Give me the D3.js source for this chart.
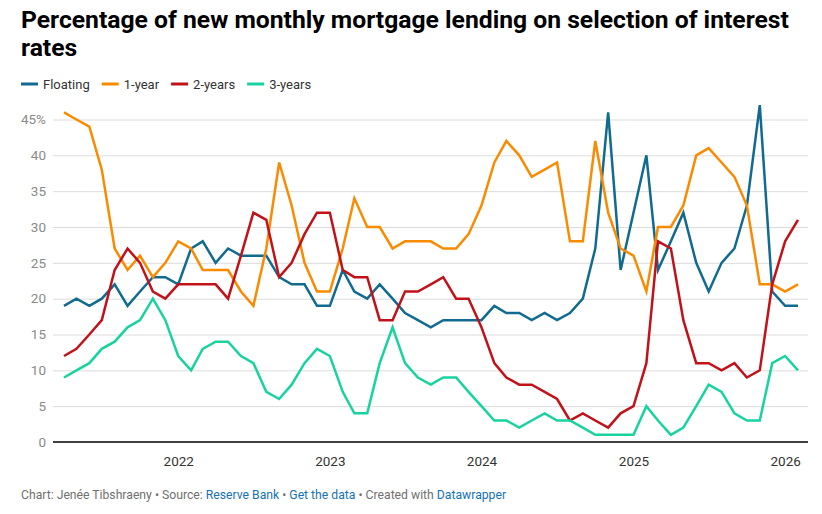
<!DOCTYPE html>
<html>
<head>
<meta charset="utf-8">
<script src="https://cdn.jsdelivr.net/npm/d3@7/dist/d3.min.js"></script>
<style>
  html, body { margin: 0; padding: 0; background: #fff; }
  svg { display: block; font-family: Roboto, "Noto Sans", sans-serif; }
</style>
</head>
<body>
<svg id="chart" width="822" height="514"></svg>
<script>
// ---- data (monthly, Apr 2021 – Feb 2026) ----
const startMonth = "2021-04";
const monthCount = 59;
const seriesNames = ["Floating", "1-year", "2-years", "3-years"];
const seriesColors = ["#116a8f", "#fa8a00", "#c1121a", "#18d2a0"];

const floating = [
  19,20,19,20,22,19,21,23,23,
  22,27,28,25,27,26,26,26,23,22,22,19,
  19,24,21,20,22,20,18,17,16,17,17,17,
  17,19,18,18,17,18,17,18,20,27,46,24,
  32,40,24,28,32,25,21,25,27,33,47,21,
  19,19
];
const oneYear = [
  46,45,44,38,27,24,26,23,25,
  28,27,24,24,24,21,19,27,39,33,25,21,
  21,27,34,30,30,27,28,28,28,27,27,29,
  33,39,42,40,37,38,39,28,28,42,32,27,
  26,21,30,30,33,40,41,39,37,33,22,22,
  21,22
];
const twoYears = [
  12,13,15,17,24,27,25,21,20,
  22,22,22,22,20,26,32,31,23,25,29,32,
  32,24,23,23,17,17,21,21,22,23,20,20,
  16,11,9,8,8,7,6,3,4,3,2,4,
  5,11,28,27,17,11,11,10,11,9,10,22,
  28,31
];
const threeYears = [
  9,10,11,13,14,16,17,20,17,
  12,10,13,14,14,12,11,7,6,8,11,13,
  12,7,4,4,11,16,11,9,8,9,9,7,
  5,3,3,2,3,4,3,3,2,1,1,1,
  1,5,3,1,2,5,8,7,4,3,3,11,
  12,10
];
const yTicks = [0,5,10,15,20,25,30,35,40,45];
const xTickYears = [2022, 2023, 2024, 2025, 2026];

const titleLines = ["Percentage of new monthly mortgage lending on selection of interest", "rates"];

// ---- build ----
const parseMonth = d3.timeParse("%Y-%m");
const start = parseMonth(startMonth);
const dates = d3.range(monthCount).map(i => d3.timeMonth.offset(start, i));
const allSeries = [floating, oneYear, twoYears, threeYears];

const svg = d3.select("#chart");

// title
const title = svg.append("text")
  .attr("x", 21).attr("y", 28)
  .attr("font-size", 24.7).attr("font-weight", 700).attr("fill", "#000");
titleLines.forEach((t, i) => {
  title.append("tspan").attr("x", 21).attr("dy", i === 0 ? 0 : 28).text(t);
});

// legend
const legend = svg.append("g").attr("transform", "translate(21,84)");
let lx = 0;
seriesNames.forEach((name, i) => {
  legend.append("line")
    .attr("x1", lx).attr("x2", lx + 17).attr("y1", 0).attr("y2", 0)
    .attr("stroke", seriesColors[i]).attr("stroke-width", 3);
  const t = legend.append("text")
    .attr("x", lx + 22).attr("y", 0).attr("dy", "0.35em")
    .attr("font-size", 13).attr("fill", "#333").text(name);
  lx += 22 + t.node().getComputedTextLength() + 12;
});

// scales
const plotLeft = 53, plotRight = 808;
const x = d3.scaleTime()
  .domain([dates[0], dates[dates.length - 1]])
  .range([64, 798]);
const y = d3.scaleLinear().domain([0, 45]).range([442, 119.5]);

// grid + y labels
const yAxis = d3.axisLeft(y)
  .tickValues(yTicks)
  .tickSize(-(plotRight - plotLeft))
  .tickPadding(7)
  .tickFormat(d => d === 45 ? d + "%" : d);
const yg = svg.append("g")
  .attr("transform", `translate(${plotLeft},0)`)
  .call(yAxis);
yg.select(".domain").remove();
yg.selectAll(".tick line").attr("stroke", "#dcdcdc").attr("stroke-width", 1);
yg.selectAll(".tick text")
  .attr("font-size", 13.5).attr("fill", "#8a8a8a")
  .attr("font-family", "Roboto, sans-serif");
yg.selectAll(".tick").filter(d => d === 0).select("line").remove();

// x axis baseline & labels
const xAxis = d3.axisBottom(x)
  .tickValues(xTickYears.map(yr => new Date(yr, 0, 1)))
  .tickSize(0)
  .tickPadding(14)
  .tickFormat(d3.timeFormat("%Y"));
const xg = svg.append("g")
  .attr("transform", `translate(0,${y(0)})`)
  .call(xAxis);
xg.select(".domain").remove();
xg.selectAll(".tick text")
  .attr("font-size", 13.5).attr("fill", "#333")
  .attr("font-family", "Roboto, sans-serif");

// lines
const line = d3.line()
  .x((d, i) => x(dates[i]))
  .y(d => y(d));
allSeries.forEach((vals, i) => {
  svg.append("path")
    .datum(vals)
    .attr("fill", "none")
    .attr("stroke", seriesColors[i])
    .attr("stroke-width", 2.5)
    .attr("stroke-linejoin", "miter")
    .attr("d", line);
});

svg.append("line")
  .attr("x1", plotLeft).attr("x2", plotRight)
  .attr("y1", y(0)).attr("y2", y(0))
  .attr("stroke", "#000").attr("stroke-width", 1.3);

// footer
const footer = svg.append("text")
  .attr("x", 21).attr("y", 499)
  .attr("font-size", 12.2).attr("fill", "#707070");
const footParts = [
  ["Chart: Jenée Tibshraeny • Source: ", false],
  ["Reserve Bank", true],
  [" • ", false],
  ["Get the data", true],
  [" • Created with ", false],
  ["Datawrapper", true]
];
footParts.forEach(([t, link]) => {
  footer.append("tspan").attr("fill", link ? "#1672b8" : "#707070").text(t);
});
</script>
</body>
</html>
